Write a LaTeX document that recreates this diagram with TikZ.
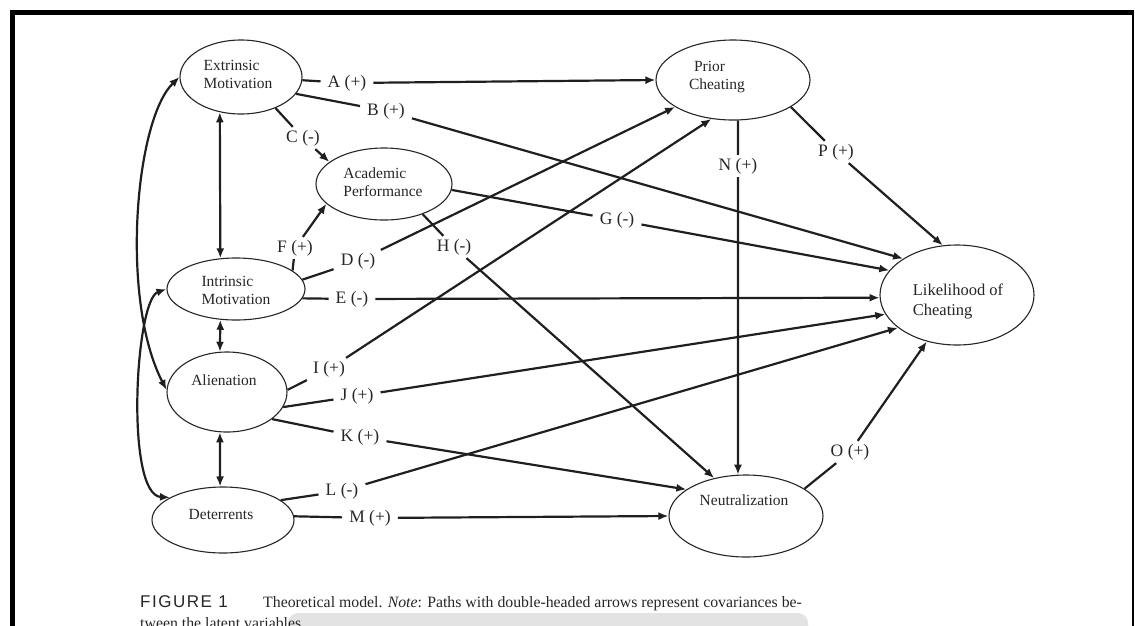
\documentclass[tikz,border=0pt]{standalone}
\usepackage{fontspec}
\setmainfont{Liberation Serif}
\newfontfamily\capsans[LetterSpace=9]{Liberation Sans}
\usetikzlibrary{shapes.geometric,arrows.meta}
\begin{document}
\begin{tikzpicture}[x=1pt,y=-1pt,
  latent/.style={draw=black!85, line width=1.1pt, ellipse, inner sep=0pt, fill=white},
  vartext/.style={align=left, font=\fontsize{15.5}{18}\selectfont, inner sep=0pt, text=black!85},
  pathlbl/.style={font=\fontsize{17.5}{20}\selectfont, inner xsep=7pt, inner ysep=3pt, text=black!85},
  link/.style={line width=2.2pt, draw=black!88},
  arrowlink/.style={link, -{Latex[length=10pt,width=8pt]}},
  covlink/.style={link, {Latex[length=10pt,width=8pt]}-{Latex[length=10pt,width=8pt]}},
  captext/.style={anchor=base west, inner sep=0pt, font=\fontsize{15.8}{19}\selectfont, text=black!85},
]
\useasboundingbox (0,0) rectangle (1135,625);

% page frame
\fill[black] (10,10) rectangle (1133.5,15);
\fill[black] (10,10) rectangle (15,630);
\fill[black] (1131.5,10) rectangle (1133.5,630);

% latent variables
\node[latent, minimum width=122, minimum height=74] (ext)   at (241,77)  {};
\node[latent, minimum width=136, minimum height=72] (acad)  at (384,184) {};
\node[latent, minimum width=154, minimum height=80] (prior) at (733,80)  {};
\node[latent, minimum width=138, minimum height=62] (intr)  at (236,289) {};
\node[latent, minimum width=120, minimum height=80] (alien) at (227,392) {};
\node[latent, minimum width=142, minimum height=66] (deter) at (223,520) {};
\node[latent, minimum width=154, minimum height=82] (neut)  at (746,516) {};
\node[latent, minimum width=154, minimum height=100] (like) at (957,295) {};

\node[vartext] (ext-t)   at (238,74)  {Extrinsic\\Motivation};
\node[vartext] (acad-t)  at (383,182) {Academic\\Performance};
\node[vartext] (prior-t) at (717,77)  {\hspace*{5pt}Prior\\Cheating};
\node[vartext] (intr-t)  at (236,290) {Intrinsic\\Motivation};
\node[vartext] (alien-t) at (224,380) {Alienation};
\node[vartext] (deter-t) at (221,514) {Deterrents};
\node[vartext] (neut-t)  at (744,500) {Neutralization};
\node[vartext, font=\fontsize{16.5}{20}\selectfont] (like-t) at (958,301) {Likelihood of\\Cheating};

% path labels
\node[pathlbl] (lA) at (347,83)  {A (+)};
\node[pathlbl] (lB) at (386,111) {B (+)};
\node[pathlbl] (lC) at (303,138) {C (-)};
\node[pathlbl] (lD) at (358,261) {D (-)};
\node[pathlbl] (lE) at (352,299) {E (-)};
\node[pathlbl] (lF) at (295,248) {F (+)};
\node[pathlbl] (lG) at (617,220) {G (-)};
\node[pathlbl] (lH) at (454,247) {H (-)};
\node[pathlbl] (lI) at (329,369) {I (+)};
\node[pathlbl] (lJ) at (357,396) {J (+)};
\node[pathlbl] (lK) at (360,437) {K (+)};
\node[pathlbl] (lL) at (342,491) {L (-)};
\node[pathlbl] (lM) at (370,518) {M (+)};
\node[pathlbl] (lN) at (738,166) {N (+)};
\node[pathlbl] (lO) at (850,452) {O (+)};
\node[pathlbl] (lP) at (836,152) {P (+)};

% structural paths
\draw[link] (ext.-3) -- (lA);    \draw[arrowlink] (lA) -- (prior.180);
\draw[link] (ext.-17) -- (lB);   \draw[arrowlink] (lB) -- (like.146);
\draw[link] (ext.-42) -- (lC);   \draw[arrowlink] (lC) -- (acad.158);
\draw[link] (intr.8) -- (lD);    \draw[arrowlink] (lD) -- (prior.205);
\draw[link] (intr.-8) -- (lE);   \draw[arrowlink] (lE) -- (like.182);
\draw[link] (intr.18) -- (lF);   \draw[arrowlink] (lF) -- (acad.199);
\draw[link] (acad.-5) -- (lG);   \draw[arrowlink] (lG) -- (like.160);
\draw[link] (acad.-38) -- (lH);  \draw[arrowlink] (lH) -- (neut.130);
\draw[link] (alien.2) -- (lI);   \draw[arrowlink] (lI) -- (prior.241);
\draw[link] (alien.-15) -- (lJ); \draw[arrowlink] (lJ) -- (like.195);
\draw[link] (alien.-31) -- (lK); \draw[arrowlink] (lK) -- (neut.156);
\draw[link] (deter.19) -- (lL);  \draw[arrowlink] (lL) -- (like.209);
\draw[link] (deter.3) -- (lM);   \draw[arrowlink] (lM) -- (neut.180);
\draw[link] (prior.-83) -- (lN); \draw[arrowlink] (lN) -- (neut.101);
\draw[link] (neut.25) -- (lO);   \draw[arrowlink] (lO) -- (like.237);
\draw[link] (prior.-25) -- (lP); \draw[arrowlink] (lP) -- (like.106);

% covariances
\draw[covlink] (ext.239) -- (intr.117);
\draw[covlink] (intr.243) -- (alien.100);
\draw[covlink] (alien.260) -- (deter.95);
\draw[covlink] (ext.180) .. controls (135,120) and (120,300) .. (alien.178);
\draw[covlink] (intr.180) .. controls (135,300) and (125,495) .. (deter.157);

% caption
\fill[gray!22, rounded corners=10pt] (288,613) rectangle (808,640);
\node[anchor=base west, inner sep=0pt, font=\capsans\fontsize{17}{20}\selectfont, text=black!85] (fig) at (140,607) {FIGURE 1};
\node[captext] (cap1) at (263,607)
  {Theoretical model. \textit{Note}: Paths with double-headed arrows represent covariances be-};
\node[captext] (cap2) at (140,628)
  {tween the latent variables.};
\end{tikzpicture}
\end{document}
